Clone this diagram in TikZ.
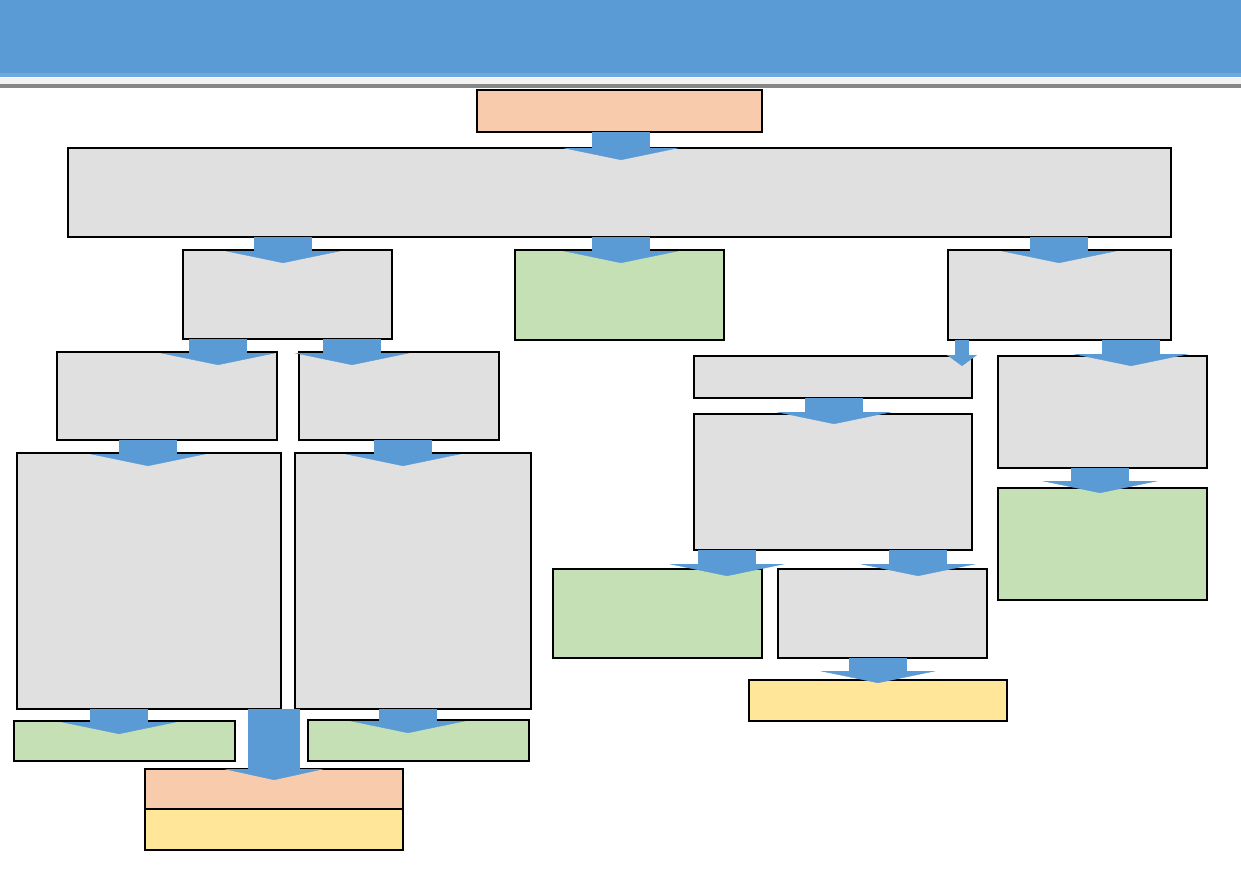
\documentclass[tikz,border=0pt]{standalone}
\usetikzlibrary{arrows.meta,calc}
\definecolor{headblue}{HTML}{5B9BD5}
\definecolor{headline}{HTML}{6FA8DC}
\definecolor{barstrip}{HTML}{F2F2F2}
\definecolor{bargrey}{HTML}{878787}
\definecolor{flowblue}{HTML}{5B9BD5}
\definecolor{boxgrey}{HTML}{E0E0E0}
\definecolor{boxgreen}{HTML}{C5E0B4}
\definecolor{boxsalmon}{HTML}{F8CBAD}
\definecolor{boxyellow}{HTML}{FFE699}

\begin{document}
\begin{tikzpicture}[x=1pt,y=-1pt]
		\tikzset{box/.style = {shape=rectangle,draw,line width=1.2pt,anchor=north west,inner sep=0pt,outer sep=0pt}}
		\tikzset{greybox/.style = {box,fill=boxgrey}}
		\tikzset{greenbox/.style = {box,fill=boxgreen}}
		\tikzset{salmonbox/.style = {box,fill=boxsalmon}}
		\tikzset{yellowbox/.style = {box,fill=boxyellow}}
		\tikzset{flow/.style = {line width=58pt,draw=flowblue,-{Triangle[width=116pt,length=12pt,line width=0.4pt,fill=flowblue]}}}
		\tikzset{bigflow/.style = {line width=52pt,draw=flowblue,-{Triangle[width=100pt,length=11pt,line width=0.4pt,fill=flowblue]}}}
		\tikzset{smallflow/.style = {line width=14pt,draw=flowblue,-{Triangle[width=30pt,length=11pt,line width=0.4pt,fill=flowblue]}}}
		\useasboundingbox (0,0) rectangle (1241,875);
		% header band
		\fill[headblue] (0,0) rectangle (1241,77);
		\fill[headline] (0,73) rectangle (1241,77);
		\fill[barstrip] (0,78) rectangle (1241,84);
		\fill[bargrey] (0,84) rectangle (1241,88);
		% boxes
		\node[salmonbox, minimum width=285pt, minimum height=42pt] (start) at (477,90) {};
		\node[greybox, minimum width=1103pt, minimum height=89pt] (main) at (68,148) {};
		\node[greybox, minimum width=209pt, minimum height=89pt] (left) at (183,250) {};
		\node[greenbox, minimum width=209pt, minimum height=90pt] (mid) at (515,250) {};
		\node[greybox, minimum width=223pt, minimum height=90pt] (right) at (948,250) {};
		\node[greybox, minimum width=220pt, minimum height=88pt] (la) at (57,352) {};
		\node[greybox, minimum width=200pt, minimum height=88pt] (lb) at (299,352) {};
		\node[greybox, minimum width=264pt, minimum height=256pt] (laa) at (17,453) {};
		\node[greybox, minimum width=236pt, minimum height=256pt] (lbb) at (295,453) {};
		\node[greenbox, minimum width=221pt, minimum height=40pt] (laend) at (14,721) {};
		\node[greenbox, minimum width=221pt, minimum height=41pt] (lbend) at (308,720) {};
		\node[salmonbox, minimum width=258pt, minimum height=40pt] (finala) at (145,769) {};
		\node[yellowbox, minimum width=258pt, minimum height=41pt] (finalb) at (145,809) {};
		\node[greybox, minimum width=278pt, minimum height=42pt] (ra) at (694,356) {};
		\node[greybox, minimum width=278pt, minimum height=136pt] (raa) at (694,414) {};
		\node[greenbox, minimum width=209pt, minimum height=89pt] (raend) at (553,569) {};
		\node[greybox, minimum width=209pt, minimum height=89pt] (rab) at (778,569) {};
		\node[yellowbox, minimum width=258pt, minimum height=41pt] (rabend) at (749,680) {};
		\node[greybox, minimum width=209pt, minimum height=112pt] (rb) at (998,356) {};
		\node[greenbox, minimum width=209pt, minimum height=112pt] (rbend) at (998,488) {};
		%arrows
		\draw[flow] (start.south -| 621,0) -- ($(main.north -| 621,0)+(0,12)$);
		\draw[flow] (main.south -| 283,0) -- ($(left.north -| 283,0)+(0,13)$);
		\draw[flow] (main.south -| 621,0) -- ($(mid.north -| 621,0)+(0,13)$);
		\draw[flow] (main.south -| 1059,0) -- ($(right.north -| 1059,0)+(0,13)$);
		\draw[flow] (left.south -| 218,0) -- ($(la.north -| 218,0)+(0,13)$);
		\draw[flow] (left.south -| 352,0) -- ($(lb.north -| 352,0)+(0,13)$);
		\draw[flow] (la.south -| 148,0) -- ($(laa.north -| 148,0)+(0,13)$);
		\draw[flow] (lb.south -| 403,0) -- ($(lbb.north -| 403,0)+(0,13)$);
		\draw[flow] (laa.south -| 119,0) -- ($(laend.north -| 119,0)+(0,13)$);
		\draw[flow] (lbb.south -| 408,0) -- ($(lbend.north -| 408,0)+(0,13)$);
		\draw[bigflow] (laa.south -| 274,0) -- ($(finala.north -| 274,0)+(0,11)$);
		\draw[smallflow] (right.south -| 962,0) -- ($(ra.north -| 962,0)+(0,10)$);
		\draw[flow] (right.south -| 1131,0) -- ($(rb.north -| 1131,0)+(0,10)$);
		\draw[flow] (ra.south -| 834,0) -- ($(raa.north -| 834,0)+(0,10)$);
		\draw[flow] (raa.south -| 727,0) -- ($(raend.north -| 727,0)+(0,7)$);
		\draw[flow] (raa.south -| 918,0) -- ($(rab.north -| 918,0)+(0,7)$);
		\draw[flow] (rb.south -| 1100,0) -- ($(rbend.north -| 1100,0)+(0,5)$);
		\draw[flow] (rab.south -| 878,0) -- ($(rabend.north -| 878,0)+(0,3)$);
\end{tikzpicture}
\end{document}
